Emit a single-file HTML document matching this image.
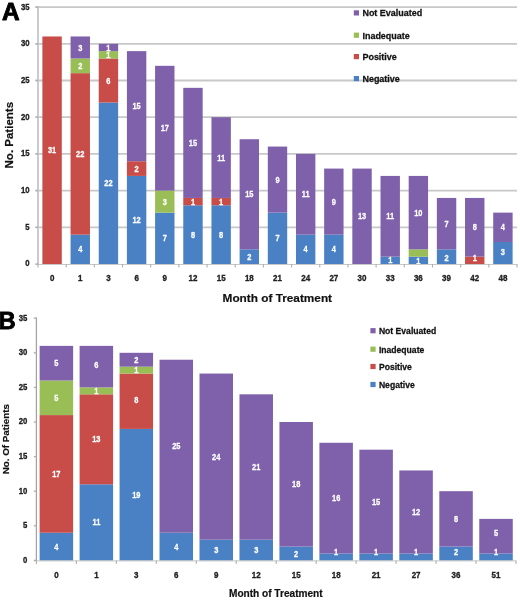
<!DOCTYPE html>
<html><head><meta charset="utf-8"><style>
html,body{margin:0;padding:0;background:#fff;}
body{width:520px;height:602px;overflow:hidden;position:relative;}
svg{position:absolute;left:0;top:0;font-family:"Liberation Sans", sans-serif;font-weight:bold;will-change:transform;}
</style></head><body>
<svg width="520" height="602" viewBox="0 0 520 602">
<line x1="35.5" y1="227.3" x2="517" y2="227.3" stroke="#c8c8c8" stroke-width="1.8"/>
<line x1="35.5" y1="190.6" x2="517" y2="190.6" stroke="#c8c8c8" stroke-width="1.8"/>
<line x1="35.5" y1="153.9" x2="517" y2="153.9" stroke="#c8c8c8" stroke-width="1.8"/>
<line x1="35.5" y1="117.2" x2="517" y2="117.2" stroke="#c8c8c8" stroke-width="1.8"/>
<line x1="35.5" y1="80.5" x2="517" y2="80.5" stroke="#c8c8c8" stroke-width="1.8"/>
<line x1="35.5" y1="43.8" x2="517" y2="43.8" stroke="#c8c8c8" stroke-width="1.8"/>
<line x1="35.5" y1="7.1" x2="517" y2="7.1" stroke="#c8c8c8" stroke-width="1.8"/>
<rect x="42.39" y="36.46" width="19.4" height="227.74" fill="#C84D48"/>
<rect x="70.56" y="234.64" width="19.4" height="29.56" fill="#4A80C4"/>
<rect x="70.56" y="73.16" width="19.4" height="161.48" fill="#C84D48"/>
<rect x="70.56" y="58.48" width="19.4" height="14.68" fill="#99BE55"/>
<rect x="70.56" y="36.46" width="19.4" height="22.02" fill="#7F60AA"/>
<rect x="98.74" y="102.52" width="19.4" height="161.68" fill="#4A80C4"/>
<rect x="98.74" y="58.48" width="19.4" height="44.04" fill="#C84D48"/>
<rect x="98.74" y="51.14" width="19.4" height="7.34" fill="#99BE55"/>
<rect x="98.74" y="43.8" width="19.4" height="7.34" fill="#7F60AA"/>
<rect x="126.92" y="175.92" width="19.4" height="88.28" fill="#4A80C4"/>
<rect x="126.92" y="161.24" width="19.4" height="14.68" fill="#C84D48"/>
<rect x="126.92" y="51.14" width="19.4" height="110.1" fill="#7F60AA"/>
<rect x="155.09" y="212.62" width="19.4" height="51.58" fill="#4A80C4"/>
<rect x="155.09" y="190.6" width="19.4" height="22.02" fill="#99BE55"/>
<rect x="155.09" y="65.82" width="19.4" height="124.78" fill="#7F60AA"/>
<rect x="183.27" y="205.28" width="19.4" height="58.92" fill="#4A80C4"/>
<rect x="183.27" y="197.94" width="19.4" height="7.34" fill="#C84D48"/>
<rect x="183.27" y="87.84" width="19.4" height="110.1" fill="#7F60AA"/>
<rect x="211.45" y="205.28" width="19.4" height="58.92" fill="#4A80C4"/>
<rect x="211.45" y="197.94" width="19.4" height="7.34" fill="#C84D48"/>
<rect x="211.45" y="117.2" width="19.4" height="80.74" fill="#7F60AA"/>
<rect x="239.62" y="249.32" width="19.4" height="14.88" fill="#4A80C4"/>
<rect x="239.62" y="139.22" width="19.4" height="110.1" fill="#7F60AA"/>
<rect x="267.8" y="212.62" width="19.4" height="51.58" fill="#4A80C4"/>
<rect x="267.8" y="146.56" width="19.4" height="66.06" fill="#7F60AA"/>
<rect x="295.98" y="234.64" width="19.4" height="29.56" fill="#4A80C4"/>
<rect x="295.98" y="153.9" width="19.4" height="80.74" fill="#7F60AA"/>
<rect x="324.15" y="234.64" width="19.4" height="29.56" fill="#4A80C4"/>
<rect x="324.15" y="168.58" width="19.4" height="66.06" fill="#7F60AA"/>
<rect x="352.33" y="168.58" width="19.4" height="95.62" fill="#7F60AA"/>
<rect x="380.51" y="256.66" width="19.4" height="7.54" fill="#4A80C4"/>
<rect x="380.51" y="175.92" width="19.4" height="80.74" fill="#7F60AA"/>
<rect x="408.68" y="256.66" width="19.4" height="7.54" fill="#4A80C4"/>
<rect x="408.68" y="249.32" width="19.4" height="7.34" fill="#99BE55"/>
<rect x="408.68" y="175.92" width="19.4" height="73.4" fill="#7F60AA"/>
<rect x="436.86" y="249.32" width="19.4" height="14.88" fill="#4A80C4"/>
<rect x="436.86" y="197.94" width="19.4" height="51.38" fill="#7F60AA"/>
<rect x="465.04" y="256.66" width="19.4" height="7.54" fill="#C84D48"/>
<rect x="465.04" y="197.94" width="19.4" height="58.72" fill="#7F60AA"/>
<rect x="493.21" y="241.98" width="19.4" height="22.22" fill="#4A80C4"/>
<rect x="493.21" y="212.62" width="19.4" height="29.36" fill="#7F60AA"/>
<text transform="translate(52.09 150.03) scale(0.93 1.15)" y="2.86" font-size="8" fill="#fff" stroke="#fff" stroke-width="0.25" text-anchor="middle">31</text>
<text transform="translate(80.26 249.12) scale(0.93 1.15)" y="2.86" font-size="8" fill="#fff" stroke="#fff" stroke-width="0.25" text-anchor="middle">4</text>
<text transform="translate(80.26 153.7) scale(0.93 1.15)" y="2.86" font-size="8" fill="#fff" stroke="#fff" stroke-width="0.25" text-anchor="middle">22</text>
<text transform="translate(80.26 65.62) scale(0.93 1.15)" y="2.86" font-size="8" fill="#fff" stroke="#fff" stroke-width="0.25" text-anchor="middle">2</text>
<text transform="translate(80.26 47.27) scale(0.93 1.15)" y="2.86" font-size="8" fill="#fff" stroke="#fff" stroke-width="0.25" text-anchor="middle">3</text>
<text transform="translate(108.44 183.06) scale(0.93 1.15)" y="2.86" font-size="8" fill="#fff" stroke="#fff" stroke-width="0.25" text-anchor="middle">22</text>
<text transform="translate(108.44 80.3) scale(0.93 1.15)" y="2.86" font-size="8" fill="#fff" stroke="#fff" stroke-width="0.25" text-anchor="middle">6</text>
<text transform="translate(108.44 54.61) scale(0.93 1.15)" y="2.86" font-size="8" fill="#fff" stroke="#fff" stroke-width="0.25" text-anchor="middle">1</text>
<text transform="translate(108.44 47.27) scale(0.93 1.15)" y="2.86" font-size="8" fill="#fff" stroke="#fff" stroke-width="0.25" text-anchor="middle">1</text>
<text transform="translate(136.62 219.76) scale(0.93 1.15)" y="2.86" font-size="8" fill="#fff" stroke="#fff" stroke-width="0.25" text-anchor="middle">12</text>
<text transform="translate(136.62 168.38) scale(0.93 1.15)" y="2.86" font-size="8" fill="#fff" stroke="#fff" stroke-width="0.25" text-anchor="middle">2</text>
<text transform="translate(136.62 105.99) scale(0.93 1.15)" y="2.86" font-size="8" fill="#fff" stroke="#fff" stroke-width="0.25" text-anchor="middle">15</text>
<text transform="translate(164.79 238.11) scale(0.93 1.15)" y="2.86" font-size="8" fill="#fff" stroke="#fff" stroke-width="0.25" text-anchor="middle">7</text>
<text transform="translate(164.79 201.41) scale(0.93 1.15)" y="2.86" font-size="8" fill="#fff" stroke="#fff" stroke-width="0.25" text-anchor="middle">3</text>
<text transform="translate(164.79 128.01) scale(0.93 1.15)" y="2.86" font-size="8" fill="#fff" stroke="#fff" stroke-width="0.25" text-anchor="middle">17</text>
<text transform="translate(192.97 234.44) scale(0.93 1.15)" y="2.86" font-size="8" fill="#fff" stroke="#fff" stroke-width="0.25" text-anchor="middle">8</text>
<text transform="translate(192.97 201.41) scale(0.93 1.15)" y="2.86" font-size="8" fill="#fff" stroke="#fff" stroke-width="0.25" text-anchor="middle">1</text>
<text transform="translate(192.97 142.69) scale(0.93 1.15)" y="2.86" font-size="8" fill="#fff" stroke="#fff" stroke-width="0.25" text-anchor="middle">15</text>
<text transform="translate(221.15 234.44) scale(0.93 1.15)" y="2.86" font-size="8" fill="#fff" stroke="#fff" stroke-width="0.25" text-anchor="middle">8</text>
<text transform="translate(221.15 201.41) scale(0.93 1.15)" y="2.86" font-size="8" fill="#fff" stroke="#fff" stroke-width="0.25" text-anchor="middle">1</text>
<text transform="translate(221.15 157.37) scale(0.93 1.15)" y="2.86" font-size="8" fill="#fff" stroke="#fff" stroke-width="0.25" text-anchor="middle">11</text>
<text transform="translate(249.32 256.46) scale(0.93 1.15)" y="2.86" font-size="8" fill="#fff" stroke="#fff" stroke-width="0.25" text-anchor="middle">2</text>
<text transform="translate(249.32 194.07) scale(0.93 1.15)" y="2.86" font-size="8" fill="#fff" stroke="#fff" stroke-width="0.25" text-anchor="middle">15</text>
<text transform="translate(277.5 238.11) scale(0.93 1.15)" y="2.86" font-size="8" fill="#fff" stroke="#fff" stroke-width="0.25" text-anchor="middle">7</text>
<text transform="translate(277.5 179.39) scale(0.93 1.15)" y="2.86" font-size="8" fill="#fff" stroke="#fff" stroke-width="0.25" text-anchor="middle">9</text>
<text transform="translate(305.68 249.12) scale(0.93 1.15)" y="2.86" font-size="8" fill="#fff" stroke="#fff" stroke-width="0.25" text-anchor="middle">4</text>
<text transform="translate(305.68 194.07) scale(0.93 1.15)" y="2.86" font-size="8" fill="#fff" stroke="#fff" stroke-width="0.25" text-anchor="middle">11</text>
<text transform="translate(333.85 249.12) scale(0.93 1.15)" y="2.86" font-size="8" fill="#fff" stroke="#fff" stroke-width="0.25" text-anchor="middle">4</text>
<text transform="translate(333.85 201.41) scale(0.93 1.15)" y="2.86" font-size="8" fill="#fff" stroke="#fff" stroke-width="0.25" text-anchor="middle">9</text>
<text transform="translate(362.03 216.09) scale(0.93 1.15)" y="2.86" font-size="8" fill="#fff" stroke="#fff" stroke-width="0.25" text-anchor="middle">13</text>
<text transform="translate(390.21 260.13) scale(0.93 1.15)" y="2.86" font-size="8" fill="#fff" stroke="#fff" stroke-width="0.25" text-anchor="middle">1</text>
<text transform="translate(390.21 216.09) scale(0.93 1.15)" y="2.86" font-size="8" fill="#fff" stroke="#fff" stroke-width="0.25" text-anchor="middle">11</text>
<text transform="translate(418.38 261) scale(0.93 1.15)" y="2.86" font-size="8" fill="#fff" stroke="#fff" stroke-width="0.25" text-anchor="middle">1</text>
<text transform="translate(418.38 212.42) scale(0.93 1.15)" y="2.86" font-size="8" fill="#fff" stroke="#fff" stroke-width="0.25" text-anchor="middle">10</text>
<text transform="translate(446.56 257.3) scale(0.93 1.15)" y="2.86" font-size="8" fill="#fff" stroke="#fff" stroke-width="0.25" text-anchor="middle">2</text>
<text transform="translate(446.56 223.43) scale(0.93 1.15)" y="2.86" font-size="8" fill="#fff" stroke="#fff" stroke-width="0.25" text-anchor="middle">7</text>
<text transform="translate(474.74 257.9) scale(0.93 1.15)" y="2.86" font-size="8" fill="#fff" stroke="#fff" stroke-width="0.25" text-anchor="middle">1</text>
<text transform="translate(474.74 227.1) scale(0.93 1.15)" y="2.86" font-size="8" fill="#fff" stroke="#fff" stroke-width="0.25" text-anchor="middle">8</text>
<text transform="translate(502.91 251.6) scale(0.93 1.15)" y="2.86" font-size="8" fill="#fff" stroke="#fff" stroke-width="0.25" text-anchor="middle">3</text>
<text transform="translate(502.91 227.1) scale(0.93 1.15)" y="2.86" font-size="8" fill="#fff" stroke="#fff" stroke-width="0.25" text-anchor="middle">4</text>
<line x1="38" y1="6.3" x2="38" y2="264.5" stroke="#bfc3c7" stroke-width="1.7"/>
<line x1="35.4" y1="264.5" x2="517" y2="264.5" stroke="#c8c8c8" stroke-width="1.0"/>
<line x1="35.4" y1="264" x2="38" y2="264" stroke="#b0b0b0" stroke-width="1.4"/>
<text transform="translate(29.6 263.2) scale(0.97 1.12)" y="2.86" font-size="8" fill="#222" stroke="#222" stroke-width="0.3" text-anchor="end">0</text>
<line x1="35.4" y1="227.3" x2="38" y2="227.3" stroke="#b0b0b0" stroke-width="1.4"/>
<text transform="translate(29.6 226.5) scale(0.97 1.12)" y="2.86" font-size="8" fill="#222" stroke="#222" stroke-width="0.3" text-anchor="end">5</text>
<line x1="35.4" y1="190.6" x2="38" y2="190.6" stroke="#b0b0b0" stroke-width="1.4"/>
<text transform="translate(29.6 189.8) scale(0.97 1.12)" y="2.86" font-size="8" fill="#222" stroke="#222" stroke-width="0.3" text-anchor="end">10</text>
<line x1="35.4" y1="153.9" x2="38" y2="153.9" stroke="#b0b0b0" stroke-width="1.4"/>
<text transform="translate(29.6 153.1) scale(0.97 1.12)" y="2.86" font-size="8" fill="#222" stroke="#222" stroke-width="0.3" text-anchor="end">15</text>
<line x1="35.4" y1="117.2" x2="38" y2="117.2" stroke="#b0b0b0" stroke-width="1.4"/>
<text transform="translate(29.6 116.4) scale(0.97 1.12)" y="2.86" font-size="8" fill="#222" stroke="#222" stroke-width="0.3" text-anchor="end">20</text>
<line x1="35.4" y1="80.5" x2="38" y2="80.5" stroke="#b0b0b0" stroke-width="1.4"/>
<text transform="translate(29.6 79.7) scale(0.97 1.12)" y="2.86" font-size="8" fill="#222" stroke="#222" stroke-width="0.3" text-anchor="end">25</text>
<line x1="35.4" y1="43.8" x2="38" y2="43.8" stroke="#b0b0b0" stroke-width="1.4"/>
<text transform="translate(29.6 43) scale(0.97 1.12)" y="2.86" font-size="8" fill="#222" stroke="#222" stroke-width="0.3" text-anchor="end">30</text>
<line x1="35.4" y1="7.1" x2="38" y2="7.1" stroke="#b0b0b0" stroke-width="1.4"/>
<text transform="translate(29.6 6.3) scale(0.97 1.12)" y="2.86" font-size="8" fill="#222" stroke="#222" stroke-width="0.3" text-anchor="end">35</text>
<line x1="38" y1="264" x2="38" y2="267.5" stroke="#b0b0b0" stroke-width="1.1"/>
<line x1="66.18" y1="264" x2="66.18" y2="267.5" stroke="#b0b0b0" stroke-width="1.1"/>
<line x1="94.35" y1="264" x2="94.35" y2="267.5" stroke="#b0b0b0" stroke-width="1.1"/>
<line x1="122.53" y1="264" x2="122.53" y2="267.5" stroke="#b0b0b0" stroke-width="1.1"/>
<line x1="150.71" y1="264" x2="150.71" y2="267.5" stroke="#b0b0b0" stroke-width="1.1"/>
<line x1="178.88" y1="264" x2="178.88" y2="267.5" stroke="#b0b0b0" stroke-width="1.1"/>
<line x1="207.06" y1="264" x2="207.06" y2="267.5" stroke="#b0b0b0" stroke-width="1.1"/>
<line x1="235.24" y1="264" x2="235.24" y2="267.5" stroke="#b0b0b0" stroke-width="1.1"/>
<line x1="263.41" y1="264" x2="263.41" y2="267.5" stroke="#b0b0b0" stroke-width="1.1"/>
<line x1="291.59" y1="264" x2="291.59" y2="267.5" stroke="#b0b0b0" stroke-width="1.1"/>
<line x1="319.76" y1="264" x2="319.76" y2="267.5" stroke="#b0b0b0" stroke-width="1.1"/>
<line x1="347.94" y1="264" x2="347.94" y2="267.5" stroke="#b0b0b0" stroke-width="1.1"/>
<line x1="376.12" y1="264" x2="376.12" y2="267.5" stroke="#b0b0b0" stroke-width="1.1"/>
<line x1="404.29" y1="264" x2="404.29" y2="267.5" stroke="#b0b0b0" stroke-width="1.1"/>
<line x1="432.47" y1="264" x2="432.47" y2="267.5" stroke="#b0b0b0" stroke-width="1.1"/>
<line x1="460.65" y1="264" x2="460.65" y2="267.5" stroke="#b0b0b0" stroke-width="1.1"/>
<line x1="488.82" y1="264" x2="488.82" y2="267.5" stroke="#b0b0b0" stroke-width="1.1"/>
<line x1="517" y1="264" x2="517" y2="267.5" stroke="#b0b0b0" stroke-width="1.1"/>
<text transform="translate(52.09 277.95) scale(1 1.1)" y="2.86" font-size="8" fill="#222" stroke="#222" stroke-width="0.3" text-anchor="middle">0</text>
<text transform="translate(80.26 277.95) scale(1 1.1)" y="2.86" font-size="8" fill="#222" stroke="#222" stroke-width="0.3" text-anchor="middle">1</text>
<text transform="translate(108.44 277.95) scale(1 1.1)" y="2.86" font-size="8" fill="#222" stroke="#222" stroke-width="0.3" text-anchor="middle">3</text>
<text transform="translate(136.62 277.95) scale(1 1.1)" y="2.86" font-size="8" fill="#222" stroke="#222" stroke-width="0.3" text-anchor="middle">6</text>
<text transform="translate(164.79 277.95) scale(1 1.1)" y="2.86" font-size="8" fill="#222" stroke="#222" stroke-width="0.3" text-anchor="middle">9</text>
<text transform="translate(192.97 277.95) scale(1 1.1)" y="2.86" font-size="8" fill="#222" stroke="#222" stroke-width="0.3" text-anchor="middle">12</text>
<text transform="translate(221.15 277.95) scale(1 1.1)" y="2.86" font-size="8" fill="#222" stroke="#222" stroke-width="0.3" text-anchor="middle">15</text>
<text transform="translate(249.32 277.95) scale(1 1.1)" y="2.86" font-size="8" fill="#222" stroke="#222" stroke-width="0.3" text-anchor="middle">18</text>
<text transform="translate(277.5 277.95) scale(1 1.1)" y="2.86" font-size="8" fill="#222" stroke="#222" stroke-width="0.3" text-anchor="middle">21</text>
<text transform="translate(305.68 277.95) scale(1 1.1)" y="2.86" font-size="8" fill="#222" stroke="#222" stroke-width="0.3" text-anchor="middle">24</text>
<text transform="translate(333.85 277.95) scale(1 1.1)" y="2.86" font-size="8" fill="#222" stroke="#222" stroke-width="0.3" text-anchor="middle">27</text>
<text transform="translate(362.03 277.95) scale(1 1.1)" y="2.86" font-size="8" fill="#222" stroke="#222" stroke-width="0.3" text-anchor="middle">30</text>
<text transform="translate(390.21 277.95) scale(1 1.1)" y="2.86" font-size="8" fill="#222" stroke="#222" stroke-width="0.3" text-anchor="middle">33</text>
<text transform="translate(418.38 277.95) scale(1 1.1)" y="2.86" font-size="8" fill="#222" stroke="#222" stroke-width="0.3" text-anchor="middle">36</text>
<text transform="translate(446.56 277.95) scale(1 1.1)" y="2.86" font-size="8" fill="#222" stroke="#222" stroke-width="0.3" text-anchor="middle">39</text>
<text transform="translate(474.74 277.95) scale(1 1.1)" y="2.86" font-size="8" fill="#222" stroke="#222" stroke-width="0.3" text-anchor="middle">42</text>
<text transform="translate(502.91 277.95) scale(1 1.1)" y="2.86" font-size="8" fill="#222" stroke="#222" stroke-width="0.3" text-anchor="middle">48</text>
<rect x="353.8" y="10.3" width="5.2" height="5.2" fill="#7F60AA"/>
<text transform="translate(362.4 12.9) scale(1.01 1.12)" y="3.19" font-size="8.9" fill="#111" stroke="#111" stroke-width="0.25" text-anchor="start">Not Evaluated</text>
<rect x="353.8" y="32.6" width="5.2" height="5.2" fill="#99BE55"/>
<text transform="translate(362.4 35.2) scale(1.01 1.12)" y="3.19" font-size="8.9" fill="#111" stroke="#111" stroke-width="0.25" text-anchor="start">Inadequate</text>
<rect x="353.8" y="54" width="5.2" height="5.2" fill="#C84D48"/>
<text transform="translate(362.4 56.6) scale(1.01 1.12)" y="3.19" font-size="8.9" fill="#111" stroke="#111" stroke-width="0.25" text-anchor="start">Positive</text>
<rect x="353.8" y="76" width="5.2" height="5.2" fill="#4A80C4"/>
<text transform="translate(362.4 78.6) scale(1.01 1.12)" y="3.19" font-size="8.9" fill="#111" stroke="#111" stroke-width="0.25" text-anchor="start">Negative</text>
<text transform="translate(277.3 297.9)" y="4.22" font-size="11.8" fill="#111" stroke="#111" stroke-width="0.2" text-anchor="middle">Month of Treatment</text>
<text transform="translate(8.4 135.2) rotate(-90)" y="4.12" font-size="11.5" fill="#111" stroke="#111" stroke-width="0.2" text-anchor="middle">No. Patients</text>
<text x="2" y="20.4" font-size="24.4" fill="#000" stroke="#000" stroke-width="0.9" stroke-linejoin="round">A</text>
<rect x="39.63" y="532.72" width="33.5" height="27.88" fill="#4A80C4"/>
<rect x="39.63" y="415.08" width="33.5" height="117.64" fill="#C84D48"/>
<rect x="39.63" y="380.48" width="33.5" height="34.6" fill="#99BE55"/>
<rect x="39.63" y="345.88" width="33.5" height="34.6" fill="#7F60AA"/>
<rect x="79.6" y="484.28" width="33.5" height="76.32" fill="#4A80C4"/>
<rect x="79.6" y="394.32" width="33.5" height="89.96" fill="#C84D48"/>
<rect x="79.6" y="387.4" width="33.5" height="6.92" fill="#99BE55"/>
<rect x="79.6" y="345.88" width="33.5" height="41.52" fill="#7F60AA"/>
<rect x="119.57" y="428.92" width="33.5" height="131.68" fill="#4A80C4"/>
<rect x="119.57" y="373.56" width="33.5" height="55.36" fill="#C84D48"/>
<rect x="119.57" y="366.64" width="33.5" height="6.92" fill="#99BE55"/>
<rect x="119.57" y="352.8" width="33.5" height="13.84" fill="#7F60AA"/>
<rect x="159.53" y="532.72" width="33.5" height="27.88" fill="#4A80C4"/>
<rect x="159.53" y="359.72" width="33.5" height="173" fill="#7F60AA"/>
<rect x="199.5" y="539.64" width="33.5" height="20.96" fill="#4A80C4"/>
<rect x="199.5" y="373.56" width="33.5" height="166.08" fill="#7F60AA"/>
<rect x="239.47" y="539.64" width="33.5" height="20.96" fill="#4A80C4"/>
<rect x="239.47" y="394.32" width="33.5" height="145.32" fill="#7F60AA"/>
<rect x="279.43" y="546.56" width="33.5" height="14.04" fill="#4A80C4"/>
<rect x="279.43" y="422" width="33.5" height="124.56" fill="#7F60AA"/>
<rect x="319.4" y="553.48" width="33.5" height="7.12" fill="#4A80C4"/>
<rect x="319.4" y="442.76" width="33.5" height="110.72" fill="#7F60AA"/>
<rect x="359.37" y="553.48" width="33.5" height="7.12" fill="#4A80C4"/>
<rect x="359.37" y="449.68" width="33.5" height="103.8" fill="#7F60AA"/>
<rect x="399.33" y="553.48" width="33.5" height="7.12" fill="#4A80C4"/>
<rect x="399.33" y="470.44" width="33.5" height="83.04" fill="#7F60AA"/>
<rect x="439.3" y="546.56" width="33.5" height="14.04" fill="#4A80C4"/>
<rect x="439.3" y="491.2" width="33.5" height="55.36" fill="#7F60AA"/>
<rect x="479.27" y="553.48" width="33.5" height="7.12" fill="#4A80C4"/>
<rect x="479.27" y="518.88" width="33.5" height="34.6" fill="#7F60AA"/>
<text transform="translate(56.38 546.36) scale(0.93 1.15)" y="2.86" font-size="8" fill="#fff" stroke="#fff" stroke-width="0.25" text-anchor="middle">4</text>
<text transform="translate(56.38 473.7) scale(0.93 1.15)" y="2.86" font-size="8" fill="#fff" stroke="#fff" stroke-width="0.25" text-anchor="middle">17</text>
<text transform="translate(56.38 397.58) scale(0.93 1.15)" y="2.86" font-size="8" fill="#fff" stroke="#fff" stroke-width="0.25" text-anchor="middle">5</text>
<text transform="translate(56.38 362.98) scale(0.93 1.15)" y="2.86" font-size="8" fill="#fff" stroke="#fff" stroke-width="0.25" text-anchor="middle">5</text>
<text transform="translate(96.35 522.14) scale(0.93 1.15)" y="2.86" font-size="8" fill="#fff" stroke="#fff" stroke-width="0.25" text-anchor="middle">11</text>
<text transform="translate(96.35 439.1) scale(0.93 1.15)" y="2.86" font-size="8" fill="#fff" stroke="#fff" stroke-width="0.25" text-anchor="middle">13</text>
<text transform="translate(96.35 390.66) scale(0.93 1.15)" y="2.86" font-size="8" fill="#fff" stroke="#fff" stroke-width="0.25" text-anchor="middle">1</text>
<text transform="translate(96.35 364.94) scale(0.93 1.15)" y="2.86" font-size="8" fill="#fff" stroke="#fff" stroke-width="0.25" text-anchor="middle">6</text>
<text transform="translate(136.32 494.46) scale(0.93 1.15)" y="2.86" font-size="8" fill="#fff" stroke="#fff" stroke-width="0.25" text-anchor="middle">19</text>
<text transform="translate(136.32 399.94) scale(0.93 1.15)" y="2.86" font-size="8" fill="#fff" stroke="#fff" stroke-width="0.25" text-anchor="middle">8</text>
<text transform="translate(136.32 369.9) scale(0.93 1.15)" y="2.86" font-size="8" fill="#fff" stroke="#fff" stroke-width="0.25" text-anchor="middle">1</text>
<text transform="translate(136.32 359.52) scale(0.93 1.15)" y="2.86" font-size="8" fill="#fff" stroke="#fff" stroke-width="0.25" text-anchor="middle">2</text>
<text transform="translate(176.28 546.36) scale(0.93 1.15)" y="2.86" font-size="8" fill="#fff" stroke="#fff" stroke-width="0.25" text-anchor="middle">4</text>
<text transform="translate(176.28 446.02) scale(0.93 1.15)" y="2.86" font-size="8" fill="#fff" stroke="#fff" stroke-width="0.25" text-anchor="middle">25</text>
<text transform="translate(216.25 549.82) scale(0.93 1.15)" y="2.86" font-size="8" fill="#fff" stroke="#fff" stroke-width="0.25" text-anchor="middle">3</text>
<text transform="translate(216.25 456.4) scale(0.93 1.15)" y="2.86" font-size="8" fill="#fff" stroke="#fff" stroke-width="0.25" text-anchor="middle">24</text>
<text transform="translate(256.22 549.82) scale(0.93 1.15)" y="2.86" font-size="8" fill="#fff" stroke="#fff" stroke-width="0.25" text-anchor="middle">3</text>
<text transform="translate(256.22 466.78) scale(0.93 1.15)" y="2.86" font-size="8" fill="#fff" stroke="#fff" stroke-width="0.25" text-anchor="middle">21</text>
<text transform="translate(296.18 553.28) scale(0.93 1.15)" y="2.86" font-size="8" fill="#fff" stroke="#fff" stroke-width="0.25" text-anchor="middle">2</text>
<text transform="translate(296.18 484.08) scale(0.93 1.15)" y="2.86" font-size="8" fill="#fff" stroke="#fff" stroke-width="0.25" text-anchor="middle">18</text>
<text transform="translate(336.15 551.8) scale(0.93 1.15)" y="2.86" font-size="8" fill="#fff" stroke="#fff" stroke-width="0.25" text-anchor="middle">1</text>
<text transform="translate(336.15 497.92) scale(0.93 1.15)" y="2.86" font-size="8" fill="#fff" stroke="#fff" stroke-width="0.25" text-anchor="middle">16</text>
<text transform="translate(376.12 551.8) scale(0.93 1.15)" y="2.86" font-size="8" fill="#fff" stroke="#fff" stroke-width="0.25" text-anchor="middle">1</text>
<text transform="translate(376.12 501.38) scale(0.93 1.15)" y="2.86" font-size="8" fill="#fff" stroke="#fff" stroke-width="0.25" text-anchor="middle">15</text>
<text transform="translate(416.08 551.8) scale(0.93 1.15)" y="2.86" font-size="8" fill="#fff" stroke="#fff" stroke-width="0.25" text-anchor="middle">1</text>
<text transform="translate(416.08 511.76) scale(0.93 1.15)" y="2.86" font-size="8" fill="#fff" stroke="#fff" stroke-width="0.25" text-anchor="middle">12</text>
<text transform="translate(456.05 551.5) scale(0.93 1.15)" y="2.86" font-size="8" fill="#fff" stroke="#fff" stroke-width="0.25" text-anchor="middle">2</text>
<text transform="translate(456.05 518.68) scale(0.93 1.15)" y="2.86" font-size="8" fill="#fff" stroke="#fff" stroke-width="0.25" text-anchor="middle">8</text>
<text transform="translate(496.02 551.8) scale(0.93 1.15)" y="2.86" font-size="8" fill="#fff" stroke="#fff" stroke-width="0.25" text-anchor="middle">1</text>
<text transform="translate(496.02 532.9) scale(0.93 1.15)" y="2.86" font-size="8" fill="#fff" stroke="#fff" stroke-width="0.25" text-anchor="middle">5</text>
<line x1="36.4" y1="317.4" x2="36.4" y2="560.9" stroke="#a4a4a4" stroke-width="1.3"/>
<line x1="33.8" y1="560.9" x2="516" y2="560.9" stroke="#c4c4c4" stroke-width="1.0"/>
<line x1="33.8" y1="560.4" x2="36.4" y2="560.4" stroke="#b0b0b0" stroke-width="1.4"/>
<text transform="translate(27.3 559.6) scale(0.97 1.12)" y="2.86" font-size="8" fill="#222" stroke="#222" stroke-width="0.3" text-anchor="end">0</text>
<line x1="33.8" y1="525.8" x2="36.4" y2="525.8" stroke="#b0b0b0" stroke-width="1.4"/>
<text transform="translate(27.3 525) scale(0.97 1.12)" y="2.86" font-size="8" fill="#222" stroke="#222" stroke-width="0.3" text-anchor="end">5</text>
<line x1="33.8" y1="491.2" x2="36.4" y2="491.2" stroke="#b0b0b0" stroke-width="1.4"/>
<text transform="translate(27.3 490.4) scale(0.97 1.12)" y="2.86" font-size="8" fill="#222" stroke="#222" stroke-width="0.3" text-anchor="end">10</text>
<line x1="33.8" y1="456.6" x2="36.4" y2="456.6" stroke="#b0b0b0" stroke-width="1.4"/>
<text transform="translate(27.3 455.8) scale(0.97 1.12)" y="2.86" font-size="8" fill="#222" stroke="#222" stroke-width="0.3" text-anchor="end">15</text>
<line x1="33.8" y1="422" x2="36.4" y2="422" stroke="#b0b0b0" stroke-width="1.4"/>
<text transform="translate(27.3 421.2) scale(0.97 1.12)" y="2.86" font-size="8" fill="#222" stroke="#222" stroke-width="0.3" text-anchor="end">20</text>
<line x1="33.8" y1="387.4" x2="36.4" y2="387.4" stroke="#b0b0b0" stroke-width="1.4"/>
<text transform="translate(27.3 386.6) scale(0.97 1.12)" y="2.86" font-size="8" fill="#222" stroke="#222" stroke-width="0.3" text-anchor="end">25</text>
<line x1="33.8" y1="352.8" x2="36.4" y2="352.8" stroke="#b0b0b0" stroke-width="1.4"/>
<text transform="translate(27.3 352) scale(0.97 1.12)" y="2.86" font-size="8" fill="#222" stroke="#222" stroke-width="0.3" text-anchor="end">30</text>
<line x1="33.8" y1="318.2" x2="36.4" y2="318.2" stroke="#b0b0b0" stroke-width="1.4"/>
<text transform="translate(27.3 317.4) scale(0.97 1.12)" y="2.86" font-size="8" fill="#222" stroke="#222" stroke-width="0.3" text-anchor="end">35</text>
<line x1="36.4" y1="560.4" x2="36.4" y2="563.9" stroke="#b0b0b0" stroke-width="1.1"/>
<line x1="76.37" y1="560.4" x2="76.37" y2="563.9" stroke="#b0b0b0" stroke-width="1.1"/>
<line x1="116.33" y1="560.4" x2="116.33" y2="563.9" stroke="#b0b0b0" stroke-width="1.1"/>
<line x1="156.3" y1="560.4" x2="156.3" y2="563.9" stroke="#b0b0b0" stroke-width="1.1"/>
<line x1="196.27" y1="560.4" x2="196.27" y2="563.9" stroke="#b0b0b0" stroke-width="1.1"/>
<line x1="236.23" y1="560.4" x2="236.23" y2="563.9" stroke="#b0b0b0" stroke-width="1.1"/>
<line x1="276.2" y1="560.4" x2="276.2" y2="563.9" stroke="#b0b0b0" stroke-width="1.1"/>
<line x1="316.17" y1="560.4" x2="316.17" y2="563.9" stroke="#b0b0b0" stroke-width="1.1"/>
<line x1="356.13" y1="560.4" x2="356.13" y2="563.9" stroke="#b0b0b0" stroke-width="1.1"/>
<line x1="396.1" y1="560.4" x2="396.1" y2="563.9" stroke="#b0b0b0" stroke-width="1.1"/>
<line x1="436.07" y1="560.4" x2="436.07" y2="563.9" stroke="#b0b0b0" stroke-width="1.1"/>
<line x1="476.03" y1="560.4" x2="476.03" y2="563.9" stroke="#b0b0b0" stroke-width="1.1"/>
<line x1="516" y1="560.4" x2="516" y2="563.9" stroke="#b0b0b0" stroke-width="1.1"/>
<text transform="translate(56.38 575) scale(1 1.1)" y="2.86" font-size="8" fill="#222" stroke="#222" stroke-width="0.3" text-anchor="middle">0</text>
<text transform="translate(96.35 575) scale(1 1.1)" y="2.86" font-size="8" fill="#222" stroke="#222" stroke-width="0.3" text-anchor="middle">1</text>
<text transform="translate(136.32 575) scale(1 1.1)" y="2.86" font-size="8" fill="#222" stroke="#222" stroke-width="0.3" text-anchor="middle">3</text>
<text transform="translate(176.28 575) scale(1 1.1)" y="2.86" font-size="8" fill="#222" stroke="#222" stroke-width="0.3" text-anchor="middle">6</text>
<text transform="translate(216.25 575) scale(1 1.1)" y="2.86" font-size="8" fill="#222" stroke="#222" stroke-width="0.3" text-anchor="middle">9</text>
<text transform="translate(256.22 575) scale(1 1.1)" y="2.86" font-size="8" fill="#222" stroke="#222" stroke-width="0.3" text-anchor="middle">12</text>
<text transform="translate(296.18 575) scale(1 1.1)" y="2.86" font-size="8" fill="#222" stroke="#222" stroke-width="0.3" text-anchor="middle">15</text>
<text transform="translate(336.15 575) scale(1 1.1)" y="2.86" font-size="8" fill="#222" stroke="#222" stroke-width="0.3" text-anchor="middle">18</text>
<text transform="translate(376.12 575) scale(1 1.1)" y="2.86" font-size="8" fill="#222" stroke="#222" stroke-width="0.3" text-anchor="middle">21</text>
<text transform="translate(416.08 575) scale(1 1.1)" y="2.86" font-size="8" fill="#222" stroke="#222" stroke-width="0.3" text-anchor="middle">27</text>
<text transform="translate(456.05 575) scale(1 1.1)" y="2.86" font-size="8" fill="#222" stroke="#222" stroke-width="0.3" text-anchor="middle">36</text>
<text transform="translate(496.02 575) scale(1 1.1)" y="2.86" font-size="8" fill="#222" stroke="#222" stroke-width="0.3" text-anchor="middle">51</text>
<rect x="370.4" y="328.1" width="5.2" height="5.2" fill="#7F60AA"/>
<text transform="translate(378.9 330.7) scale(1 1.12)" y="3.08" font-size="8.6" fill="#111" stroke="#111" stroke-width="0.25" text-anchor="start">Not Evaluated</text>
<rect x="370.4" y="346.6" width="5.2" height="5.2" fill="#99BE55"/>
<text transform="translate(378.9 349.2) scale(1 1.12)" y="3.08" font-size="8.6" fill="#111" stroke="#111" stroke-width="0.25" text-anchor="start">Inadequate</text>
<rect x="370.4" y="363.9" width="5.2" height="5.2" fill="#C84D48"/>
<text transform="translate(378.9 366.5) scale(1 1.12)" y="3.08" font-size="8.6" fill="#111" stroke="#111" stroke-width="0.25" text-anchor="start">Positive</text>
<rect x="370.4" y="381.9" width="5.2" height="5.2" fill="#4A80C4"/>
<text transform="translate(378.9 384.5) scale(1 1.12)" y="3.08" font-size="8.6" fill="#111" stroke="#111" stroke-width="0.25" text-anchor="start">Negative</text>
<text transform="translate(275.8 593.6)" y="3.62" font-size="10.1" fill="#111" stroke="#111" stroke-width="0.2" text-anchor="middle">Month of Treatment</text>
<text transform="translate(5.6 439.2) rotate(-90)" y="3.51" font-size="9.8" fill="#111" stroke="#111" stroke-width="0.2" text-anchor="middle">No. Of Patients</text>
<text x="-1.2" y="329.3" font-size="23.4" fill="#000" stroke="#000" stroke-width="0.9" stroke-linejoin="round">B</text>
</svg>
</body></html>
